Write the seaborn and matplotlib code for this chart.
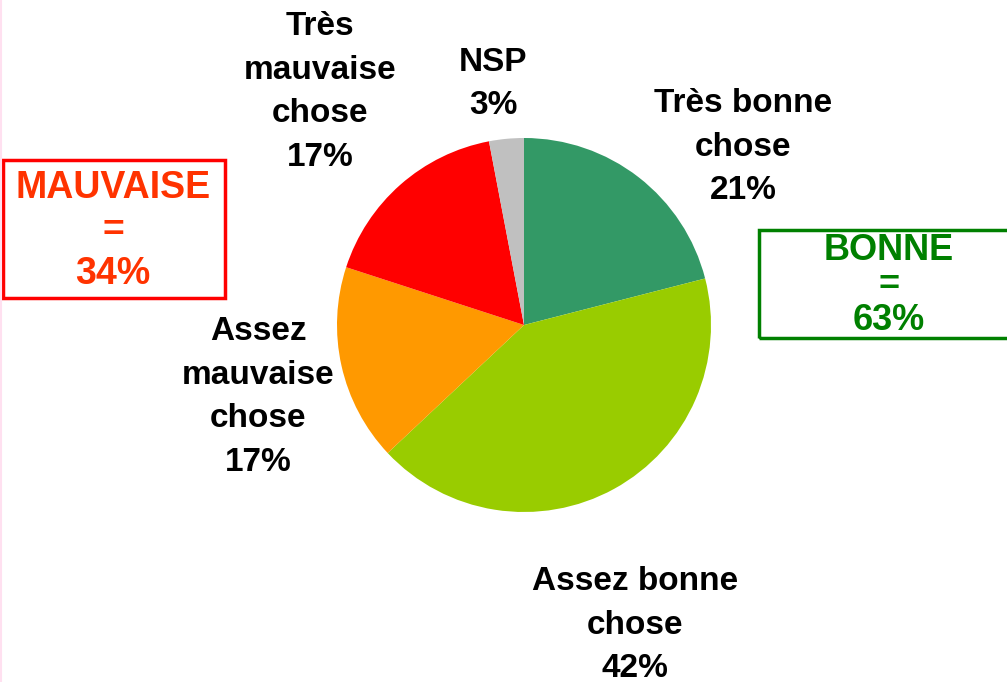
import matplotlib
matplotlib.use('Agg')
import matplotlib.pyplot as plt
import seaborn as sns
from matplotlib.patches import Rectangle

# Data
categories = ['Très bonne\nchose', 'Assez bonne\nchose', 'Assez\nmauvaise\nchose',
              'Très\nmauvaise\nchose', 'NSP']
values = [21, 42, 17, 17, 3]
colors = ['#339966', '#99CC00', '#FF9900', '#FF0000', '#C0C0C0']
bonne_total = values[0] + values[1]
mauvaise_total = values[2] + values[3]

sns.set_style('white')
plt.rcParams['font.family'] = ['Liberation Sans', 'DejaVu Sans']
plt.rcParams['font.weight'] = 'bold'

W, H = 1007, 682
fig = plt.figure(figsize=(W / 100, H / 100), dpi=100)
ax = fig.add_axes([0, 0, 1, 1])

# pie, centre and radius in pixels (y measured from bottom)
ax.pie(values, colors=colors, startangle=90, counterclock=False,
       center=(524, H - 325), radius=187, frame=True,
       wedgeprops=dict(linewidth=0))
ax.set_xlim(0, W)
ax.set_ylim(0, H)
ax.axis('off')

# slice labels
label_pos = [(743, 147), (635, 625), (258, 397), (320, 92), (493, 84)]
for cat, v, (x, y) in zip(categories, values, label_pos):
    ax.text(x, H - y, f'{cat}\n{v}%', ha='center', va='center',
            fontsize=24, fontweight='bold', color='black', linespacing=1.52)

# summary boxes
ax.add_patch(Rectangle((3, H - 298), 222, 138, fill=False, edgecolor='#FF0000', lw=2.5))
ax.text(113, H - 231, f'MAUVAISE\n=\n{mauvaise_total}%', ha='center', va='center',
        fontsize=27, fontweight='bold', color='#FF3300', linespacing=1.25)

ax.add_patch(Rectangle((759, H - 338), 260, 108, fill=False, edgecolor='#008000', lw=2.5,
                       clip_on=False))
ax.text(889, H - 285, f'BONNE\n=\n{bonne_total}%', ha='center', va='center',
        fontsize=26, fontweight='bold', color='#008000', linespacing=1.0)

# faint left border
ax.axvline(0.8, color='#FFE0F0', lw=1.5)

fig.savefig('out.png', dpi=100)
